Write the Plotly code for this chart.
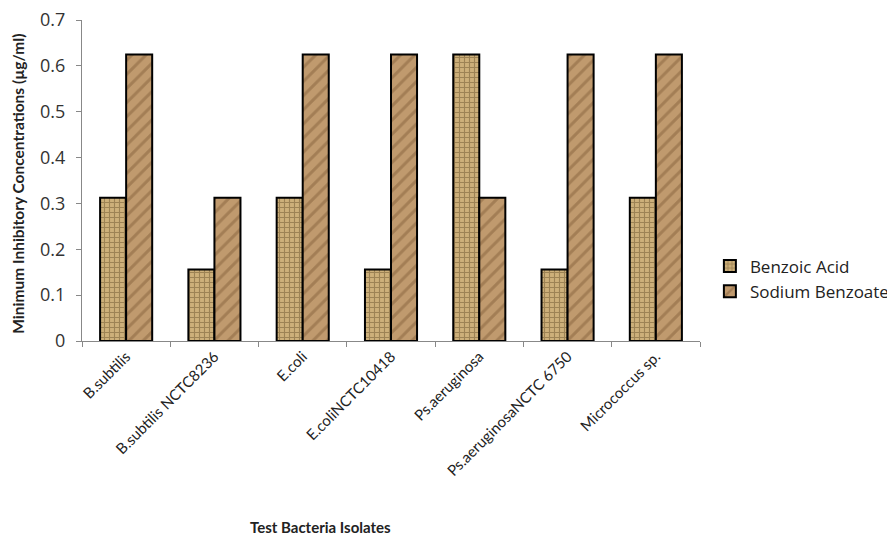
import plotly.graph_objects as go

categories = ["B.subtilis", "B.subtilis NCTC8236", "E.coli", "E.coliNCTC10418",
              "Ps.aeruginosa", "Ps.aeruginosaNCTC 6750", "Micrococcus sp."]
benzoic_acid = [0.3125, 0.156, 0.3125, 0.156, 0.625, 0.156, 0.3125]
sodium_benzoate = [0.625, 0.3125, 0.625, 0.625, 0.3125, 0.625, 0.625]
y_ticks = [0, 0.1, 0.2, 0.3, 0.4, 0.5, 0.6, 0.7]
y_tick_text = ["0", "0.1", "0.2", "0.3", "0.4", "0.5", "0.6", "0.7"]

FONT = "Lato"
WIDE = "Open Sans"

fig = go.Figure()
fig.add_trace(go.Bar(
    name="Benzoic Acid", x=categories, y=benzoic_acid,
    marker=dict(color="#c4a872", line=dict(color="black", width=2),
                pattern=dict(shape="+", fgcolor="#6e5530", bgcolor="#cdb07a",
                             size=5, solidity=0.4)),
))
fig.add_trace(go.Bar(
    name="Sodium Benzoate", x=categories, y=sodium_benzoate,
    marker=dict(color="#b08a60", line=dict(color="black", width=2),
                pattern=dict(shape="/", fgcolor="#86613c", bgcolor="#c09a6e",
                             size=10, solidity=0.3)),
))

fig.update_layout(
    width=887, height=531,
    margin=dict(l=74, r=195, t=12, b=198, autoexpand=False),
    paper_bgcolor="white", plot_bgcolor="white",
    barmode="group", bargap=0.41, bargroupgap=0,
    font=dict(family=FONT, color="#222222", size=15),
    legend=dict(x=1.016, y=0.193, xanchor="left", yanchor="middle",
                font=dict(family=WIDE, size=17, color="#222222"),
                tracegroupgap=2, itemwidth=30),
    xaxis=dict(
        automargin=False,
        showline=True, linecolor="#888888", linewidth=1,
        ticks="outside", ticklen=5, tickcolor="#888888",
        tickson="boundaries", tickangle=-45,
        tickfont=dict(family=FONT, size=15, color="#222222"),
    ),
    yaxis=dict(
        automargin=False,
        range=[0, 0.7], tickvals=y_ticks, ticktext=y_tick_text,
        showgrid=False, zeroline=False,
        showline=True, linecolor="#888888", linewidth=1,
        ticks="outside", ticklen=5, tickcolor="#888888",
        ticklabelstandoff=7, ticklabeloverflow="allow",
        tickfont=dict(family=WIDE, size=18, color="#333333"),
    ),
    annotations=[
        dict(text="<b>Minimum Inhibitory Concentrations (µg/ml)</b>",
             xref="paper", yref="paper", x=0, y=0.49, xshift=-64,
             xanchor="center", yanchor="middle", textangle=-90, showarrow=False,
             font=dict(family=FONT, size=15.5, color="#222222")),
        dict(text="<b>Test Bacteria Isolates</b>",
             xref="paper", yref="paper", x=0, y=0, xshift=238, yshift=-186,
             xanchor="center", yanchor="middle", showarrow=False,
             font=dict(family=FONT, size=15, color="#222222")),
    ],
)

fig.write_html("out.html")
